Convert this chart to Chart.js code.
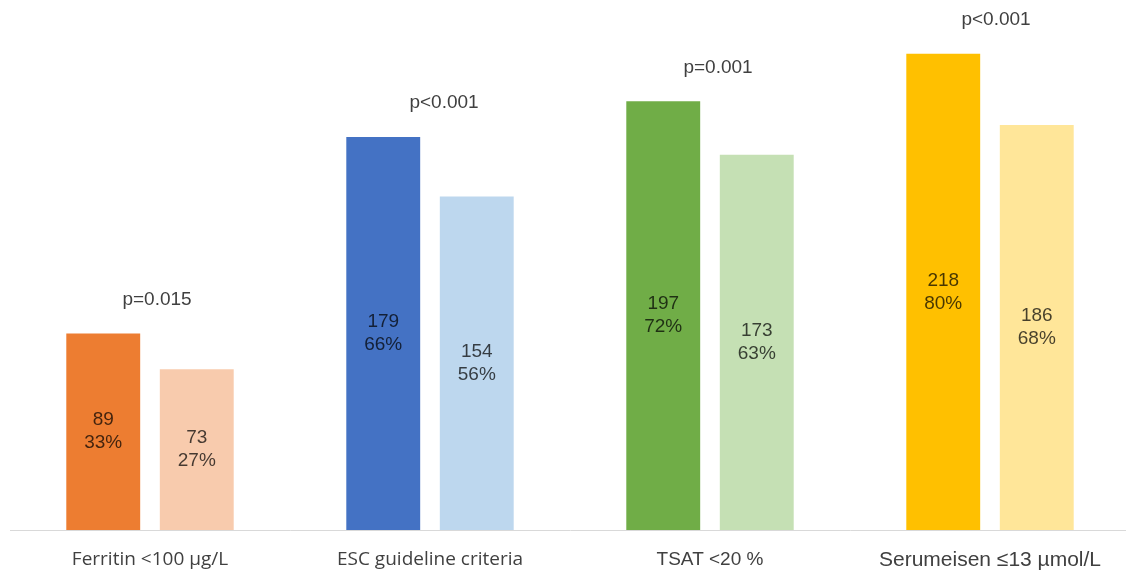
<!DOCTYPE html>
<html>
<head>
<meta charset="utf-8">
<script src="https://cdn.jsdelivr.net/npm/chart.js@4"></script>
<style>
  html, body { margin: 0; padding: 0; background: #fff; overflow: hidden; width: 1126px; height: 574px; }
  #wrap { width: 1126px; height: 574px; overflow: hidden; }
  canvas { display: block; }
</style>
</head>
<body>
<div id="wrap"><canvas id="chart" width="1136" height="574"></canvas></div>
<script>
// Iron-deficiency criteria: first group (dark bars) vs second group (light bars)
const categories   = ['Ferritin <100 µg/L', 'ESC guideline criteria', 'TSAT <20 %', 'Serumeisen ≤13 µmol/L'];
const darkPercent  = [33, 66, 72, 80];
const lightPercent = [27, 56, 63, 68];
const darkCount    = [89, 179, 197, 218];
const lightCount   = [73, 154, 173, 186];
const pValues      = ['p=0.015', 'p<0.001', 'p=0.001', 'p<0.001'];

// Colours per criterion
const darkColors  = ['#ED7D31', '#4472C4', '#70AD47', '#FFC000'];
const lightColors = ['#F8CBAD', '#BDD7EE', '#C5E0B4', '#FFE699'];

// Horizontal nudge of each p-value caption from the group centre
const pShift = [7, 14, 8, 6];

const barLabels = {
  id: 'barLabels',
  afterDatasetsDraw(chart) {
    const ctx = chart.ctx;
    const dark = chart.getDatasetMeta(0).data;
    const light = chart.getDatasetMeta(1).data;
    ctx.save();
    ctx.textAlign = 'center';
    ctx.textBaseline = 'middle';
    ctx.font = '19px "Liberation Sans", Arial, sans-serif';
    ctx.fillStyle = 'rgba(0,0,0,0.72)';
    const inner = (bar, count, pct) => {
      const cy = (bar.y + bar.base) / 2;
      ctx.fillText(String(count), bar.x, cy - 11.5);
      ctx.fillText(pct + '%', bar.x, cy + 11.5);
    };
    categories.forEach((_, i) => {
      inner(dark[i], darkCount[i], darkPercent[i]);
      inner(light[i], lightCount[i], lightPercent[i]);
    });
    ctx.fillStyle = '#404040';
    ctx.font = '19px "Liberation Sans", Arial, sans-serif';
    categories.forEach((_, i) => {
      const x = (dark[i].x + light[i].x) / 2 + pShift[i];
      ctx.fillText(pValues[i], x, dark[i].y - 34);
    });
    ctx.restore();
  }
};

new Chart(document.getElementById('chart'), {
  type: 'bar',
  data: {
    labels: categories,
    datasets: [
      { data: darkPercent, backgroundColor: darkColors, borderWidth: 0,
        categoryPercentage: 0.668, barPercentage: 0.79 },
      { data: lightPercent, backgroundColor: lightColors, borderWidth: 0,
        categoryPercentage: 0.668, barPercentage: 0.79 }
    ]
  },
  options: {
    responsive: false,
    animation: false,
    layout: { padding: { left: 10, right: 6, top: 6, bottom: 0 } },
    plugins: { legend: { display: false }, tooltip: { enabled: false } },
    scales: {
      x: {
        grid: { display: false },
        border: { display: true, color: '#d9d9d9', width: 1 },
        ticks: {
          padding: 10,
          color: '#404040',
          maxRotation: 0,
          autoSkip: false,
          font: (c) => c.index < 2
            ? { family: '"Open Sans", sans-serif', size: 19 }
            : { family: '"Liberation Sans", Arial, sans-serif', size: c.index === 3 ? 21 : 19 }
        },
        afterFit: (s) => { s.height = 44; }
      },
      y: { display: false, min: 0, max: 88 }
    }
  },
  plugins: [barLabels]
});
</script>
</body>
</html>
